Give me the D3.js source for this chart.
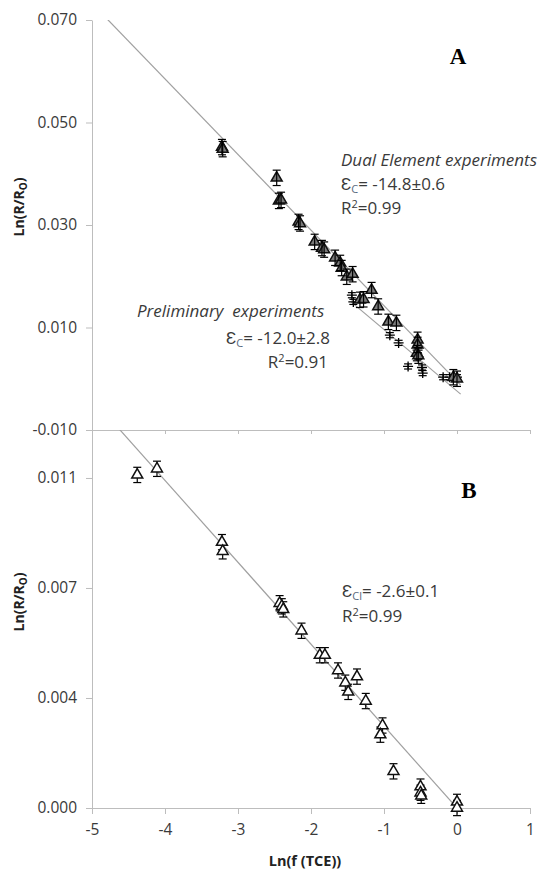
<!DOCTYPE html>
<html>
<head>
<meta charset="utf-8">
<script src="https://cdn.jsdelivr.net/npm/d3@7"></script>
<style>
body { margin: 0; background: #fff; }
text { font-family: "Open Sans", sans-serif; }
</style>
</head>
<body>
<div id="chart"></div>
<script>
var svgWidth = 548
var svgHeight = 872

// data
var xTicks = [-5, -4, -3, -2, -1, 0, 1]
var topTicks = [-0.010, 0.010, 0.030, 0.050, 0.070]
var botTicks = [0, 0.0036, 0.0072, 0.0108]

// panel A, dual element experiments (triangles)
var dualX = [-3.22, -3.21, -2.47, -2.44, -2.41, -2.17, -2.15, -1.95, -1.85, -1.82, -1.67, -1.60, -1.58, -1.51, -1.43, -1.33, -1.28, -1.17, -1.08, -0.94, -0.83, -0.54, -0.54, -0.55, -0.53, -0.05, 0.00]
var dualY = [0.0452, 0.0448, 0.0392, 0.0347, 0.0349, 0.0306, 0.0303, 0.0267, 0.0255, 0.0252, 0.0236, 0.0226, 0.0216, 0.0199, 0.0204, 0.0154, 0.0155, 0.0173, 0.0141, 0.0111, 0.0109, 0.0076, 0.0066, 0.0050, 0.0045, 0.0003, 0.0000]
// panel A, preliminary experiments (crosses)
var prelimX = [-1.44, -1.42, -0.92, -0.80, -0.54, -0.53, -0.67, -0.48, -0.47, -0.19, -0.10, 0.00]
var prelimY = [0.0163, 0.0150, 0.0085, 0.0070, 0.0056, 0.0043, 0.0024, 0.0022, 0.0011, 0.0003, 0.0003, 0.0003]
// panel B, chlorine
var clX = [-4.38, -4.11, -3.22, -3.21, -2.43, -2.40, -2.38, -2.13, -1.88, -1.81, -1.63, -1.53, -1.49, -1.37, -1.25, -1.02, -1.05, -0.87, -0.50, -0.50, -0.49, 0.00, 0.00]
var clY = [0.0109, 0.0111, 0.0087, 0.0084, 0.0067, 0.0066, 0.0065, 0.0058, 0.0050, 0.0050, 0.0045, 0.0041, 0.0038, 0.0043, 0.0035, 0.0027, 0.0024, 0.0012, 0.0007, 0.0005, 0.0004, 0.0002, 0.0000]

// trend lines: [intercept, slope, xStart, xEnd]
var dualFit = [-0.0005, -0.01475, -5, 0.05]
var prelimFit = [-0.0024, -0.012, -1.45, 0.05]
var clFit = [0, -0.00268, -5, 0.05]

var topErr = 0.0015
var prelimErr = 0.0005
var botErr = 0.00025

var svg = d3.select("#chart").append("svg").attr("width", svgWidth).attr("height", svgHeight)

var x = d3.scaleLinear().domain([-5, 1]).range([92, 530])
var yTop = d3.scaleLinear().domain([-0.010, 0.070]).range([430, 20])
var yBot = d3.scaleLinear().domain([0, 0.01237]).range([808, 430])

var defs = svg.append("defs")
defs.append("clipPath").attr("id", "clipTop").append("rect")
    .attr("x", x(-5)).attr("y", yTop(0.070)).attr("width", x(1) - x(-5)).attr("height", yTop(-0.010) - yTop(0.070))
defs.append("clipPath").attr("id", "clipBot").append("rect")
    .attr("x", x(-5)).attr("y", yBot(0.01237)).attr("width", x(1) - x(-5)).attr("height", yBot(0) - yBot(0.01237))

function styleAxis(g) {
    g.select(".domain").attr("stroke", "#bdbdbd")
    g.selectAll(".tick line").attr("stroke", "#bdbdbd")
    g.selectAll(".tick text").attr("fill", "#3a3a3a").style("font-size", "15.5px").style("font-family", "Open Sans")
}

// axes, panel A
svg.append("g").attr("transform", "translate(" + x(-5) + ",0)")
    .call(d3.axisLeft(yTop).tickValues(topTicks).tickFormat(d => d.toFixed(3)).tickSize(6).tickSizeOuter(0).tickPadding(9))
    .call(styleAxis)
svg.append("g").attr("transform", "translate(0," + yTop(-0.010) + ")")
    .call(d3.axisBottom(x).tickValues(xTicks).tickFormat("").tickSize(4).tickSizeOuter(0))
    .call(styleAxis)

// axes, panel B
svg.append("g").attr("transform", "translate(" + x(-5) + ",0)")
    .call(d3.axisLeft(yBot).tickValues(botTicks).tickFormat(d => d.toFixed(3)).tickSize(6).tickSizeOuter(0).tickPadding(9))
    .call(styleAxis)
svg.append("g").attr("transform", "translate(0," + yBot(0) + ")")
    .call(d3.axisBottom(x).tickValues(xTicks).tickFormat(d => String(d)).tickSize(6).tickSizeOuter(0).tickPadding(10))
    .call(styleAxis)

// trend lines
function fitLine(fit, yScale, clip) {
    var pts = [fit[2], fit[3]].map(v => [x(v), yScale(fit[0] + fit[1] * v)])
    svg.append("path")
        .attr("d", d3.line()(pts))
        .attr("stroke", "#a0a0a0").attr("stroke-width", 1.2).attr("fill", "none")
        .attr("clip-path", "url(#" + clip + ")")
}
fitLine(dualFit, yTop, "clipTop")
fitLine(prelimFit, yTop, "clipTop")
fitLine(clFit, yBot, "clipBot")

// error bars
function errorBars(xs, ys, err, yScale) {
    var g = svg.append("g").attr("stroke", "#000").attr("stroke-width", 1.2)
    xs.forEach(function (xv, i) {
        var cx = x(xv), top = yScale(ys[i] + err), bot = yScale(ys[i] - err)
        g.append("line").attr("x1", cx).attr("x2", cx).attr("y1", top).attr("y2", bot)
        g.append("line").attr("x1", cx - 4).attr("x2", cx + 4).attr("y1", top).attr("y2", top)
        g.append("line").attr("x1", cx - 4).attr("x2", cx + 4).attr("y1", bot).attr("y2", bot)
    })
}

var tri = d3.symbol().type(d3.symbolTriangle).size(52)
var plus = d3.symbol().type({ draw: function (ctx, s) { var r = Math.sqrt(s) / 2; ctx.moveTo(-r, 0); ctx.lineTo(r, 0); ctx.moveTo(0, -r); ctx.lineTo(0, r) } }).size(100)

errorBars(prelimX, prelimY, prelimErr, yTop)
svg.append("g").selectAll("path").data(prelimX).enter().append("path")
    .attr("d", plus)
    .attr("transform", (d, i) => "translate(" + x(d) + "," + yTop(prelimY[i]) + ")")
    .attr("stroke", "#000").attr("stroke-width", 1.3).attr("fill", "none")

svg.append("g").selectAll("path").data(dualX).enter().append("path")
    .attr("d", tri)
    .attr("transform", (d, i) => "translate(" + x(d) + "," + yTop(dualY[i]) + ")")
    .attr("fill", "#7a7a7a").attr("stroke", "#111").attr("stroke-width", 1.5)
errorBars(dualX, dualY, topErr, yTop)

errorBars(clX, clY, botErr, yBot)
svg.append("g").selectAll("path").data(clX).enter().append("path")
    .attr("d", tri)
    .attr("transform", (d, i) => "translate(" + x(d) + "," + yBot(clY[i]) + ")")
    .attr("fill", "#fff").attr("stroke", "#111").attr("stroke-width", 1.5)

// panel letters
svg.append("text").attr("x", 458).attr("y", 64).attr("text-anchor", "middle")
    .style("font-family", "Liberation Serif").style("font-weight", "bold").style("font-size", "23px").text("A")
svg.append("text").attr("x", 469).attr("y", 498).attr("text-anchor", "middle")
    .style("font-family", "Liberation Serif").style("font-weight", "bold").style("font-size", "23px").text("B")

// annotations
function note(tx, ty, parts, anchor) {
    var t = svg.append("text").attr("x", tx).attr("y", ty).attr("fill", "#3a3a3a")
        .style("font-size", "17px").style("white-space", "pre").attr("text-anchor", anchor || "start")
    parts.forEach(function (p) {
        var s = t.append("tspan").text(p.t)
        if (p.italic) s.style("font-style", "italic")
        if (p.sub) s.attr("dy", 3).style("font-size", "11px").attr("fill", "#5a6a80")
        if (p.sup) s.attr("dy", -6).style("font-size", "11px")
        if (p.back) s.attr("dy", p.back)
    })
    return t
}
note(341, 166, [{ t: "Dual Element experiments", italic: true }])
note(341, 190, [{ t: "\u0190" }, { t: "C", sub: true }, { t: "= -14.8\u00b10.6", back: -3 }])
note(341, 214, [{ t: "R" }, { t: "2", sup: true }, { t: "=0.99", back: 6 }])

note(137, 317, [{ t: "Preliminary  experiments", italic: true }])
note(330, 344, [{ t: "\u0190" }, { t: "C", sub: true }, { t: "= -12.0\u00b12.8", back: -3 }], "end")
note(328, 368, [{ t: "R" }, { t: "2", sup: true }, { t: "=0.91", back: 6 }], "end")

note(342, 597, [{ t: "\u0190" }, { t: "Cl", sub: true }, { t: "= -2.6\u00b10.1", back: -3 }])
note(342, 622, [{ t: "R" }, { t: "2", sup: true }, { t: "=0.99", back: 6 }])

// axis titles
function yTitle(cy) {
    var t = svg.append("text").attr("transform", "translate(24," + cy + ") rotate(-90)")
        .attr("text-anchor", "middle").style("font-weight", "bold").style("font-size", "14px").attr("fill", "#222")
    t.append("tspan").text("Ln(R/R")
    t.append("tspan").text("O").attr("dy", 3).style("font-size", "10px")
    t.append("tspan").text(")").attr("dy", -3)
}
yTitle(207)
yTitle(602)

svg.append("text").attr("x", 305).attr("y", 866).attr("text-anchor", "middle")
    .style("font-weight", "bold").style("font-size", "14.5px").attr("fill", "#222").text("Ln(f (TCE))")
</script>
</body>
</html>
